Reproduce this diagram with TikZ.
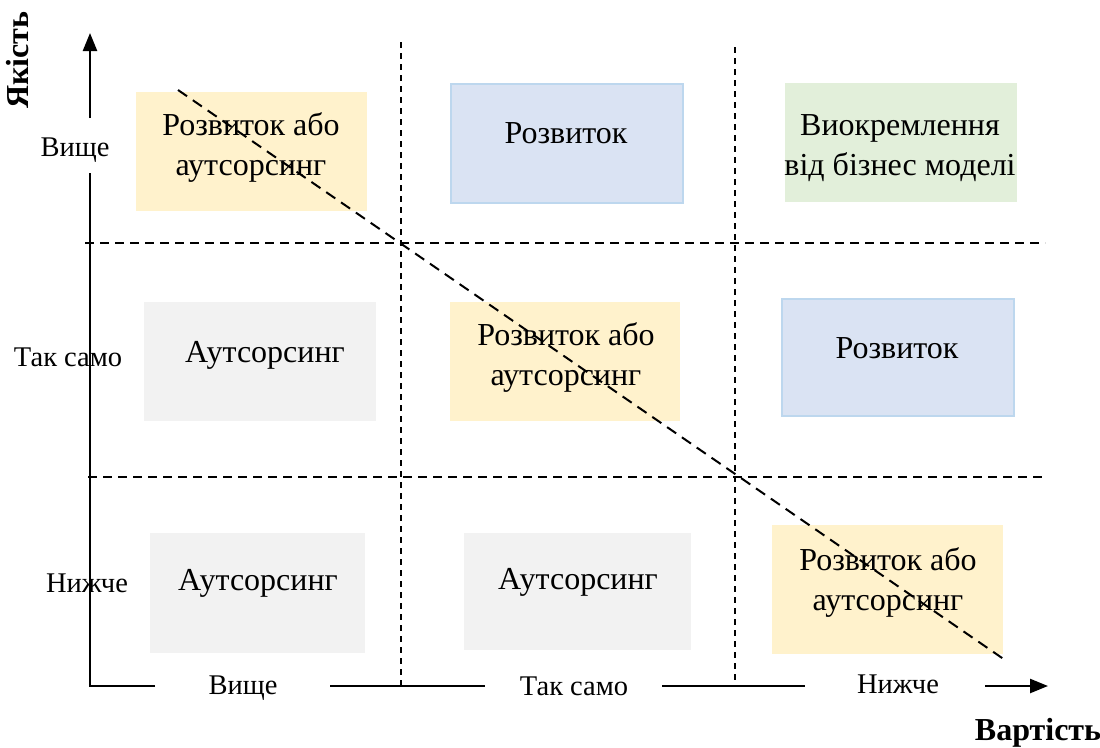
\documentclass[tikz,border=0pt]{standalone}
\usepackage{fontspec}
\setmainfont{Liberation Serif}
\usetikzlibrary{arrows.meta}
\definecolor{cyel}{HTML}{FFF2CC}
\definecolor{cblue}{HTML}{DAE3F3}
\definecolor{cblueb}{HTML}{BDD7EE}
\definecolor{cgreen}{HTML}{E2EFDA}
\definecolor{cgrey}{HTML}{F2F2F2}
\tikzset{
  boxy/.style={fill=cyel,draw=none,anchor=north west,inner sep=0pt},
  boxb/.style={fill=cblue,draw=cblueb,line width=2pt,anchor=north west,inner sep=0pt},
  boxg/.style={fill=cgreen,draw=none,anchor=north west,inner sep=0pt},
  boxgr/.style={fill=cgrey,draw=none,anchor=north west,inner sep=0pt},
  txt/.style={font=\fontsize{32}{40}\selectfont,align=center,inner sep=0pt},
  lab/.style={font=\fontsize{28.5}{34}\selectfont,inner sep=0pt},
  ttl/.style={font=\bfseries\fontsize{32}{38}\selectfont,inner sep=0pt},
  axis/.style={line width=2.4pt},
  vdash/.style={line width=1.6pt,dash pattern=on 6pt off 5pt},
  hdash/.style={line width=1.8pt,dash pattern=on 9pt off 6pt},
  ddash/.style={line width=2pt,dash pattern=on 11pt off 7pt},
  tip/.style={-{Triangle[length=18pt,width=14pt]}}
}
\begin{document}
\begin{tikzpicture}[x=1pt,y=-1pt]
\useasboundingbox (0,0) rectangle (1100,747);
% boxes
\node[boxy,minimum width=231pt,minimum height=119pt] (b11) at (136,92) {};
\node[boxb,minimum width=232pt,minimum height=119pt] (b12) at (450,83) {};
\node[boxg,minimum width=232pt,minimum height=119pt] (b13) at (785,83) {};
\node[boxgr,minimum width=232pt,minimum height=119pt] (b21) at (144,302) {};
\node[boxy,minimum width=230pt,minimum height=119pt] (b22) at (450,302) {};
\node[boxb,minimum width=232pt,minimum height=117pt] (b23) at (781,298) {};
\node[boxgr,minimum width=215pt,minimum height=120pt] (b31) at (150,533) {};
\node[boxgr,minimum width=227pt,minimum height=117pt] (b32) at (464,533) {};
\node[boxy,minimum width=231pt,minimum height=129pt] (b33) at (772,525) {};
% texts
\node[txt] (t11) at (251,147) {Розвиток або\\аутсорсинг};
\node[txt] (t12) at (566,133) {Розвиток};
\node[txt] (t13) at (900,148) {Виокремлення\\від бізнес моделі};
\node[txt] (t21) at (265,355) {Аутсорсинг};
\node[txt] (t22) at (566,357) {Розвиток або\\аутсорсинг};
\node[txt] (t23) at (897,348) {Розвиток};
\node[txt] (t31) at (258,583) {Аутсорсинг};
\node[txt] (t32) at (578,582) {Аутсорсинг};
\node[txt] (t33) at (888,582) {Розвиток або\\аутсорсинг};
% dashed grid
\coordinate (v1t) at (401,42); \coordinate (v1b) at (401,686);
\coordinate (v2t) at (735,47); \coordinate (v2b) at (735,686);
\coordinate (h1l) at (85,243); \coordinate (h1r) at (1045,243);
\coordinate (h2l) at (88,477); \coordinate (h2r) at (1045,477);
\coordinate (d1) at (178,90); \coordinate (d2) at (1005,660);
\draw[vdash] (v1t) -- (v1b);
\draw[vdash] (v2t) -- (v2b);
\draw[hdash] (h1l) -- (h1r);
\draw[hdash] (h2l) -- (h2r);
\draw[ddash] (d1) -- (d2);
% axis labels
\node[lab] (yl1) at (75,150) {Вище};
\node[lab] (yl2) at (68,357) {Так само};
\node[lab] (yl3) at (87,583) {Нижче};
\node[lab] (xl1) at (243,688) {Вище};
\node[lab] (xl2) at (574,686) {Так само};
\node[lab] (xl3) at (898,684) {Нижче};
\node[ttl,rotate=90] (ytit) at (18,60) {Якість};
\node[ttl] (xtit) at (1038,733) {Вартість};
% axes
\coordinate (o) at (90,686);
\coordinate (ya) at (90,173); \coordinate (yb) at (90,118); \coordinate (ytop) at (90,33);
\coordinate (x1) at (155,686); \coordinate (x2) at (330,686); \coordinate (x3) at (485,686);
\coordinate (x4) at (662,686); \coordinate (x5) at (805,686); \coordinate (x6) at (985,686);
\coordinate (xend) at (1048,686);
\draw[axis] (x1) -- (o) -- (ya);
\draw[axis,tip] (yb) -- (ytop);
\draw[axis] (x2) -- (x3);
\draw[axis] (x4) -- (x5);
\draw[axis,tip] (x6) -- (xend);
\end{tikzpicture}
\end{document}
